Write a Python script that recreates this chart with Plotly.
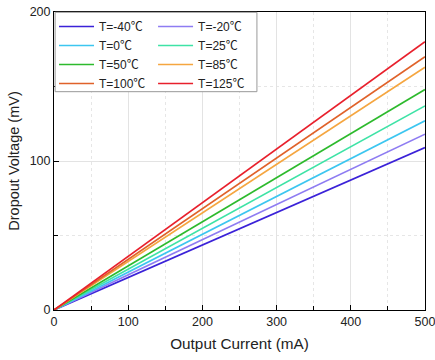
import plotly.graph_objects as go

current_mA = [0, 100, 200, 300, 400, 500]
temps = ["T=-40℃", "T=-20℃", "T=0℃", "T=25℃", "T=50℃", "T=85℃", "T=100℃", "T=125℃"]
v_m40 = [0, 21.8, 43.6, 65.4, 87.2, 109]
v_m20 = [0, 23.6, 47.2, 70.8, 94.4, 118]
v_0 = [0, 25.4, 50.8, 76.2, 101.6, 127]
v_25 = [0, 27.4, 54.8, 82.2, 109.6, 137]
v_50 = [0, 29.6, 59.2, 88.8, 118.4, 148]
v_85 = [0, 32.6, 65.2, 97.8, 130.4, 163]
v_100 = [0, 34.0, 68.0, 102.0, 136.0, 170]
v_125 = [0, 36.0, 72.0, 108.0, 144.0, 180]
series = [v_m40, v_m20, v_0, v_25, v_50, v_85, v_100, v_125]
colors = ["#3B22D8", "#8E7CF2", "#3CC6F0", "#3EE3A6", "#2DBA2D", "#F5A640", "#E0622A", "#E8202C"]

fig = go.Figure()
for i, (name, ys, c) in enumerate(zip(temps, series, colors)):
    fig.add_trace(go.Scatter(x=current_mA, y=ys, mode="lines", name=name,
                             legend="legend" if i % 2 == 0 else "legend2",
                             line=dict(color=c, width=1.7)))

axis_common = dict(
    showline=True, linecolor="black", linewidth=1, mirror=True,
    ticks="inside", ticklen=5, tickcolor="black", automargin=False,
    ticklabeloverflow="allow",
    showgrid=True, gridcolor="#e3e3e3", gridwidth=1, zeroline=False,
    tickfont=dict(family="Liberation Sans, Arial", size=12.5, color="#222"),
    minor=dict(dtick=50, ticks="inside", ticklen=4, tickcolor="black",
               showgrid=True, gridcolor="#e6e6e6", griddash="dot"),
)

leg_common = dict(yanchor="top", orientation="v", itemwidth=35, tracegroupgap=0,
                  bgcolor="rgba(0,0,0,0)", borderwidth=0,
                  font=dict(size=12, family="Liberation Sans, Noto Sans CJK SC", color="#222"))

fig.update_layout(
    width=435, height=360,
    margin=dict(l=54, r=10, t=12, b=50),
    plot_bgcolor="white", paper_bgcolor="white",
    font=dict(family="Liberation Sans, Arial", color="#222"),
    xaxis=dict(range=[0, 500], dtick=100,
               title=dict(text="Output Current (mA)", font=dict(size=15.3), standoff=10),
               **axis_common),
    yaxis=dict(range=[0, 200], dtick=100,
               title=dict(text="Dropout Voltage (mV)", font=dict(size=14.5), standoff=6),
               **axis_common),
    legend=dict(x=0.0, y=1.0, xanchor="left", **leg_common),
    legend2=dict(x=0.267, y=1.0, xanchor="left", **leg_common),
    shapes=[dict(type="rect", xref="paper", yref="paper", x0=0.003, x1=0.547,
                 y0=0.7326, y1=0.999, line=dict(color="#999", width=1),
                 fillcolor="white", layer="above")],
)

fig.write_html("out.html")
